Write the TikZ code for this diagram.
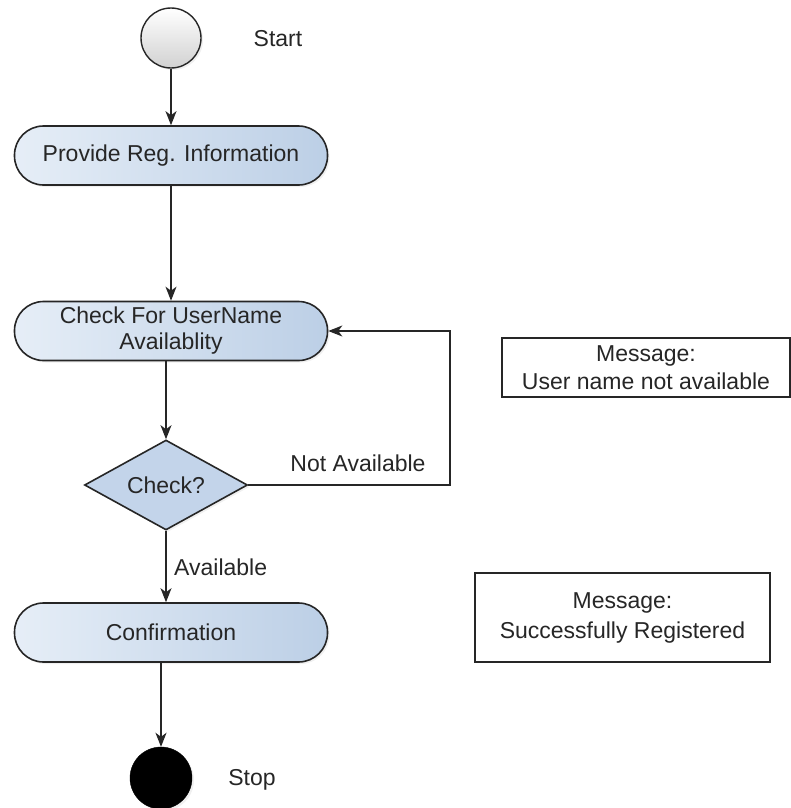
\documentclass[tikz,border=0pt]{standalone}
\usepackage{fontspec}
\setmainfont{Liberation Sans}
\usetikzlibrary{shapes.geometric,arrows.meta,shadows}
\definecolor{ink}{HTML}{262626}
\definecolor{boxL}{HTML}{E6EEF7}
\definecolor{boxR}{HTML}{BCCFE6}
\definecolor{diaFill}{HTML}{C3D4EA}
\begin{document}
\begin{tikzpicture}[x=1pt,y=1pt,
  font=\fontsize{23}{26}\selectfont, text=ink,
  soft/.style={drop shadow={opacity=0.12,shadow xshift=2pt,shadow yshift=-2pt}},
  activity/.style={draw=ink, line width=1.6pt, rectangle, rounded corners=29pt,
    minimum width=313pt, minimum height=59pt, inner sep=0pt, align=center,
    left color=boxL, right color=boxR, soft},
  decision/.style={draw=ink, line width=1.6pt, diamond, aspect=1.8,
    minimum width=163pt, minimum height=90pt, inner sep=0pt, fill=diaFill, soft},
  note/.style={draw=ink, line width=1.4pt, rectangle, fill=white, inner sep=0pt, align=center},
  flow/.style={draw=ink, line width=1.8pt, -{Stealth[length=14pt,width=11pt,inset=4pt]}},
  lbl/.style={inner sep=0pt}]
  \useasboundingbox (0,0) rectangle (791,-808);

  % initial and final states
  \node (start) [circle, draw=ink, line width=1.4pt, minimum size=60pt, inner sep=0pt,
    top color=white, bottom color=black!18, soft] at (171,-38) {};
  \node (startlbl) [lbl] at (278,-39) {Start};
  \node (stop) [circle, fill=black, draw=black, minimum size=62pt, inner sep=0pt, soft] at (161,-778) {};
  \node (stoplbl) [lbl] at (252,-780) {Stop};

  % activities
  \node (provide) [activity] at (171,-155.5) {Provide Reg. Information};
  \node (check) [activity] at (171,-331) {Check For UserName\\Availablity};
  \node (decide) [decision] at (166,-485) {Check?};
  \node (confirm) [activity] at (171,-632.5) {Confirmation};

  % messages
  \node (msgfail) [note, minimum width=288pt, minimum height=59pt,
    font=\fontsize{23}{28}\selectfont] at (646,-367.5) {Message:\\User name not available};
  \node (msgok) [note, minimum width=295pt, minimum height=89pt,
    font=\fontsize{23}{30}\selectfont] at (622.5,-617.5) {Message:\\Successfully Registered};

  % control flow
  \coordinate (loopc) at (450,-331);
  \draw[flow] (start.south) -- (provide.north);
  \draw[flow] (provide.south) -- (check.north);
  \draw[flow] (check.south -| decide.north) -- (decide.north);
  \draw[flow] (decide.east) -| (loopc) -- (check.east);
  \draw[flow] (decide.south) -- (decide.south |- confirm.north);
  \draw[flow] (confirm.south -| stop.north) -- (stop.north);

  % guard labels
  \node (naLbl) [lbl] at (358,-463) {Not Available};
  \node (avLbl) [lbl, anchor=west] at (174,-567) {Available};
\end{tikzpicture}
\end{document}
